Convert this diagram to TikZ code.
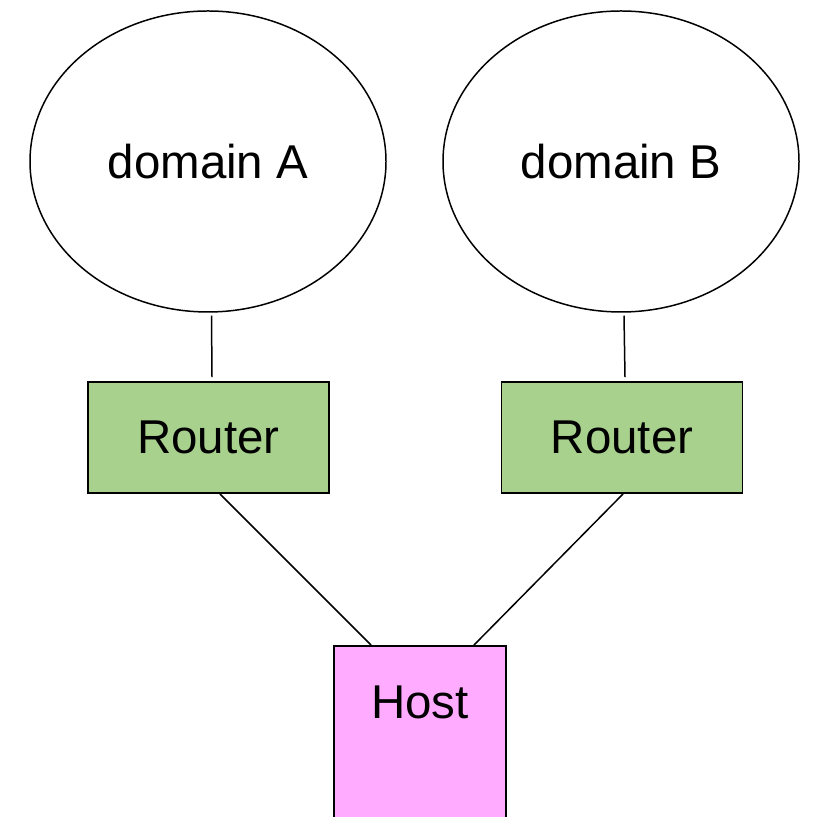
\documentclass[tikz,border=0pt]{standalone}
\usepackage{fontspec}
\setmainfont{Liberation Sans}
\usepackage{tikz}
\usetikzlibrary{shapes.geometric}
\usetikzlibrary{positioning}

\definecolor{routergreen}{RGB}{169,209,142}
\definecolor{hostpink}{RGB}{255,171,255}

\tikzset{
  domainbubble/.style={ellipse,draw,line width=0.85pt,minimum width=7.12cm,minimum height=6.02cm,font=\fontsize{27}{32}\selectfont},
  routerbox/.style={rectangle,draw,line width=1.1pt,fill=routergreen,minimum width=4.82cm,minimum height=2.22cm,font=\fontsize{27}{32}\selectfont},
  link/.style={line width=0.85pt}
}

\begin{document}
\begin{tikzpicture}
\useasboundingbox (0,0) rectangle (16.24,16.34);

\node[domainbubble] (domA) at (4.16,13.11) {domain A};
\node[domainbubble] (domB) at (12.42,13.11) {domain B};

\node[routerbox] (routerA) at (4.17,7.59) {Router};
\node[routerbox] (routerB) at (12.44,7.59) {Router};

% host box runs off the bottom edge
\node[rectangle,draw,line width=1.1pt,fill=hostpink,minimum width=3.44cm,minimum height=3.52cm] (host) at (8.40,1.66) {};
\node[font=\fontsize{27}{32}\selectfont,below=0.69cm of host.north] (hostlabel) {Host};

\draw[link] ([xshift=0.07cm,yshift=-0.06cm]domA.south) -- ([xshift=0.07cm,yshift=0.08cm]routerA.north);
\draw[link] ([xshift=0.06cm,yshift=-0.06cm]domB.south) -- ([xshift=0.06cm,yshift=0.08cm]routerB.north);

\draw[link] ([xshift=0.23cm]routerA.south) -- ([xshift=-0.98cm]host.north);
\draw[link] ([xshift=0.02cm]routerB.south) -- ([xshift=1.08cm]host.north);

\end{tikzpicture}
\end{document}
